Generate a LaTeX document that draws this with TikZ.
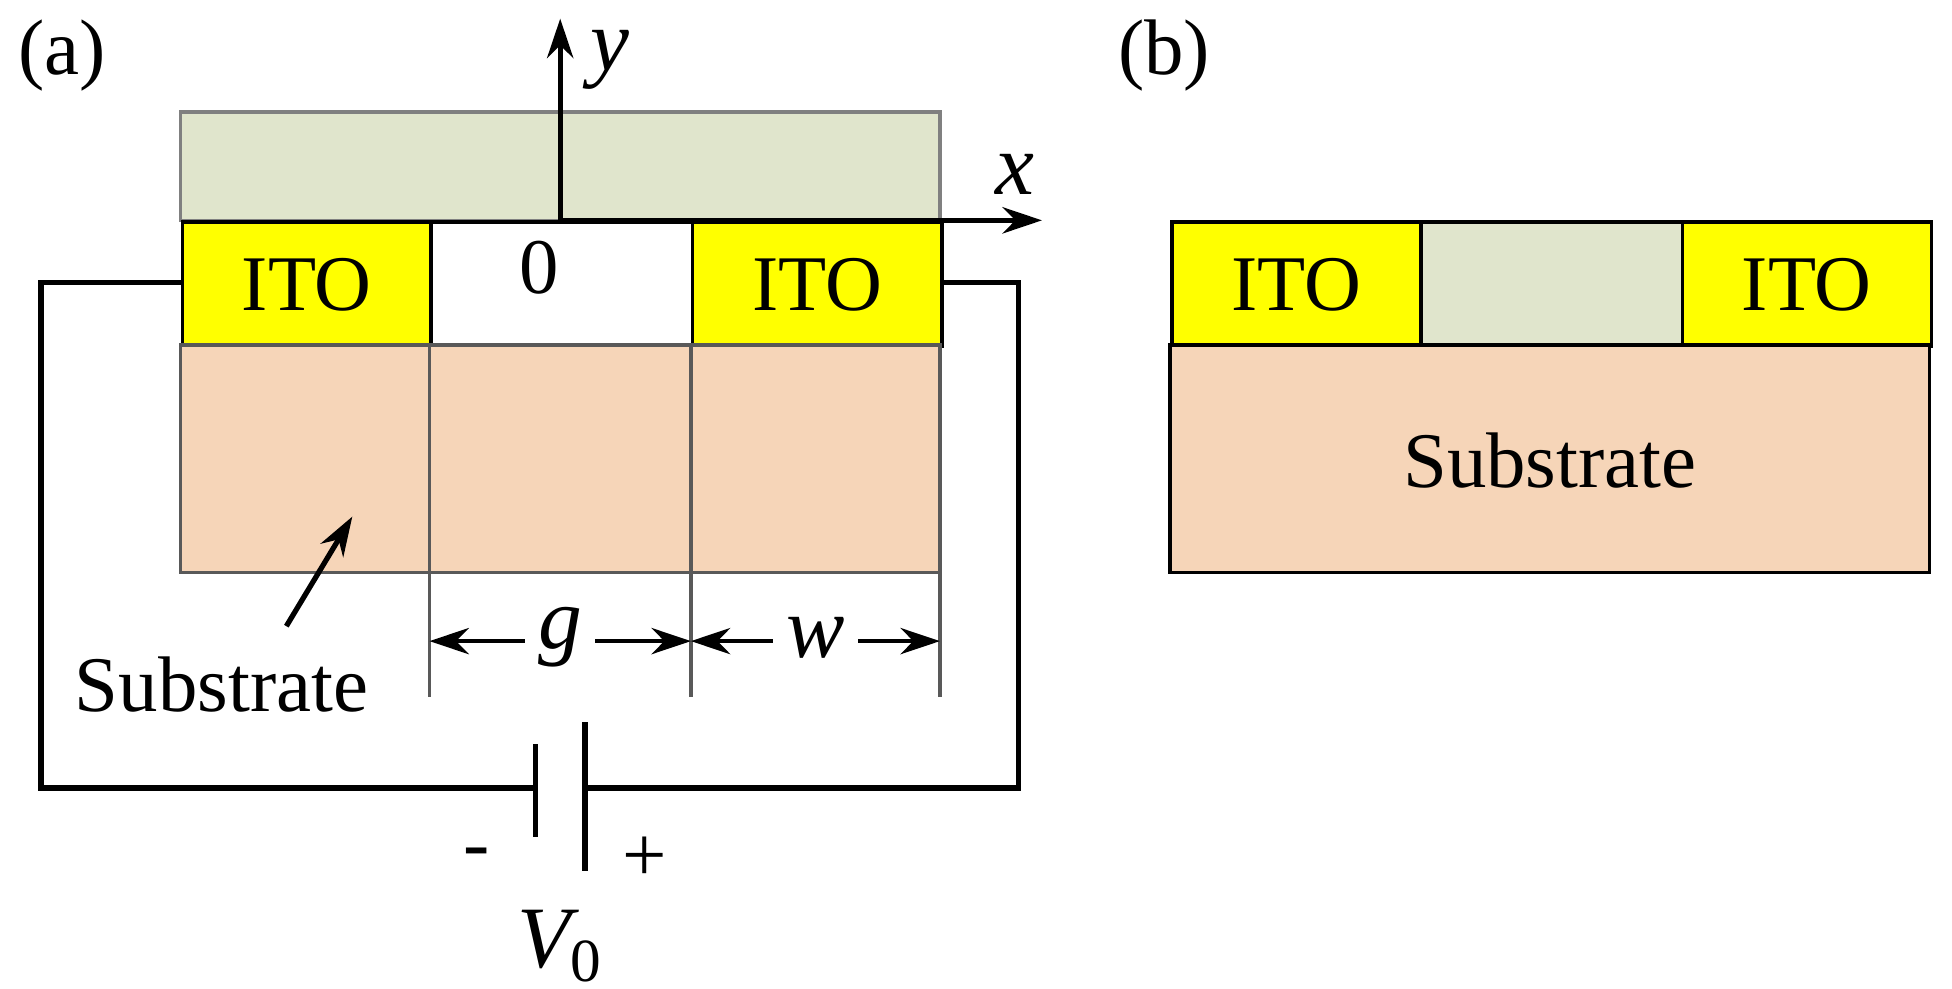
\documentclass[tikz,border=0pt]{standalone}
\usepackage{fontspec}
\setmainfont{Liberation Serif}
\usetikzlibrary{arrows.meta}
\definecolor{ito}{RGB}{255,255,0}
\definecolor{lc}{RGB}{224,229,204}
\definecolor{sub}{RGB}{246,213,184}
\begin{document}
\begin{tikzpicture}[x=0.01cm,y=-0.01cm,
  box/.style={draw=black,line width=0.8pt},
  lab/.style={font=\fontsize{18}{22}\selectfont,inner sep=0},
  wire/.style={line width=1.2pt},
  tip/.style={-{Stealth[length=9pt,width=6pt]}},
  dim/.style={line width=1pt,{Stealth[length=9pt,width=6pt]}-{Stealth[length=9pt,width=6pt]}}]
\useasboundingbox (0,0) rectangle (1568,794);
% (a)
\node[lab] (la) at (50,45) {(a)};
\path[box,fill=lc,draw=gray] (145,90) rectangle (755,177);
\node[box,fill=ito,minimum width=2cm,minimum height=1cm,anchor=north west,lab] (ito1) at (145,177) {ITO};
\node[box,fill=white,minimum width=2.1cm,minimum height=1cm,anchor=north west] (gap) at (345,177) {};
\node[box,fill=ito,minimum width=2cm,minimum height=1cm,anchor=north west,lab] (ito2) at (555,177) {ITO};
\path[box,fill=sub,draw=gray!70!black] (145,277) rectangle (755,460);
\draw[gray!70!black,line width=0.8pt] (345,277)--(345,560) (555,277)--(555,560) (755,460)--(755,560);
\node[lab] (zero) at (433,215) {0};
\coordinate (o) at (450,177);
\coordinate (ytip) at (450,15);
\coordinate (xtip) at (837,177);
\draw[wire,tip] (o)--(ytip);
\draw[wire,tip] (o)--(xtip);
\node[lab,font=\fontsize{20}{22}\selectfont\itshape] (ylab) at (490,48) {y};
\node[lab,font=\fontsize{20}{22}\selectfont\itshape] (xlab) at (815,140) {x};
\coordinate (g1) at (345,515); \coordinate (g2) at (555,515); \coordinate (w2) at (755,515);
\draw[dim] (g1)--(g2); \draw[dim] (g2)--(w2);
\node[lab,fill=white,inner sep=3pt,font=\fontsize{20}{22}\selectfont\itshape] at (450,512) {g};
\node[lab,fill=white,inner sep=3pt,font=\fontsize{20}{22}\selectfont\itshape] at (655,512) {w};
\node[lab] (subl) at (178,550) {Substrate};
\coordinate (subt) at (283,415);
\draw[line width=1.2pt,tip] (230,503)--(subt);
% circuit
\coordinate (bm) at (430,633); \coordinate (bp) at (470,633);
\draw[wire] (145,227) -- (33,227) -- (33,633) -- (bm);
\draw[wire] (bp) -- (818,633) -- (818,227) -- (755,227);
\draw[wire] (430,598)--(430,672);
\draw[wire] (470,580)--(470,700);
\node[lab] at (383,690) {-};
\node[lab] at (518,690) {+};
\node[lab,font=\fontsize{20}{22}\selectfont] (v0) at (450,760) {\itshape V\textsubscript{\upshape 0}};
% (b)
\node[lab] (lb) at (935,45) {(b)};
\node[box,fill=ito,minimum width=2cm,minimum height=1cm,anchor=north west,lab] (bi1) at (940,177) {ITO};
\node[box,fill=lc,minimum width=2.1cm,minimum height=1cm,anchor=north west] (bg) at (1140,177) {};
\node[box,fill=ito,minimum width=2cm,minimum height=1cm,anchor=north west,lab] (bi2) at (1350,177) {ITO};
\path[box,fill=sub] (940,277) rectangle (1550,460);
\node[lab] (bs) at (1245,370) {Substrate};
\end{tikzpicture}
\end{document}
